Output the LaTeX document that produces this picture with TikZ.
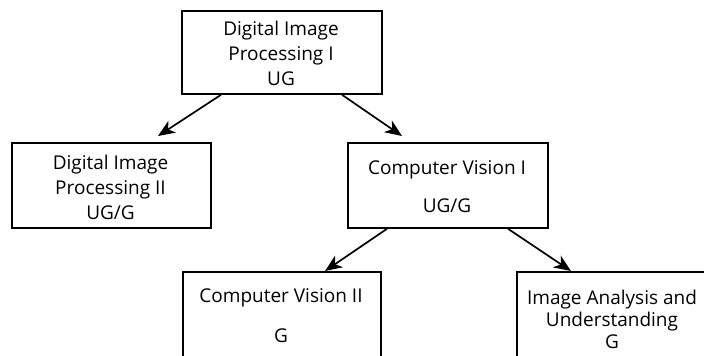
\documentclass[tikz,border=0pt]{standalone}
\usepackage{fontspec}
\setmainfont{Open Sans}
\usetikzlibrary{arrows.meta,calc}
\tikzset{
  box/.style={draw,line width=1.8pt,inner sep=0pt,anchor=north west},
  lbl/.style={inner sep=0pt,align=center,font=\fontsize{19}{25}\selectfont},
  arr/.style={line width=1.7pt,-{Stealth[length=17pt,width=14pt,inset=5pt]}}
}
\begin{document}
\begin{tikzpicture}[x=1pt,y=-1pt]
\clip (0,0) rectangle (704,356);
\fill[white] (0,0) rectangle (704,356);
% boxes
\node[box,minimum width=200pt,minimum height=83pt] (dip1) at (181,10) {};
\node[box,minimum width=199pt,minimum height=85pt] (dip2) at (11,142) {};
\node[box,minimum width=200pt,minimum height=85pt] (cv1) at (347,142) {};
\node[box,minimum width=198pt,minimum height=120pt] (cv2) at (182,271) {};
\node[box,minimum width=200pt,minimum height=120pt] (iau) at (516,271) {};
% texts
\node[lbl] (t1) at (281,53) {Digital Image\\Processing I\\UG};
\node[lbl] (t2) at (110.5,187) {Digital Image\\Processing II\\UG/G};
\node[lbl] (t3a) at (447,170) {Computer Vision I};
\node[lbl] (t3b) at (447,206) {UG/G};
\node[lbl] (t4a) at (281,298) {Computer Vision II};
\node[lbl] (t4b) at (281,336) {G};
\node[lbl,font=\fontsize{19}{22}\selectfont] (t5) at (612,319) {Image Analysis and\\Understanding\\G};
% arrows
\coordinate (a1) at ($(dip2.north west)+(147,-6)$);
\coordinate (a2) at ($(cv1.north west)+(55,-6)$);
\draw[arr] ($(dip1.south west)+(40,0)$) -- (a1);
\draw[arr] ($(dip1.south west)+(161,0)$) -- (a2);
\draw[arr] ($(cv1.south west)+(40,0)$) -- ($(cv2.north west)+(143,0)$);
\draw[arr] ($(cv1.south west)+(161,0)$) -- ($(iau.north west)+(55,0)$);
\end{tikzpicture}
\end{document}
